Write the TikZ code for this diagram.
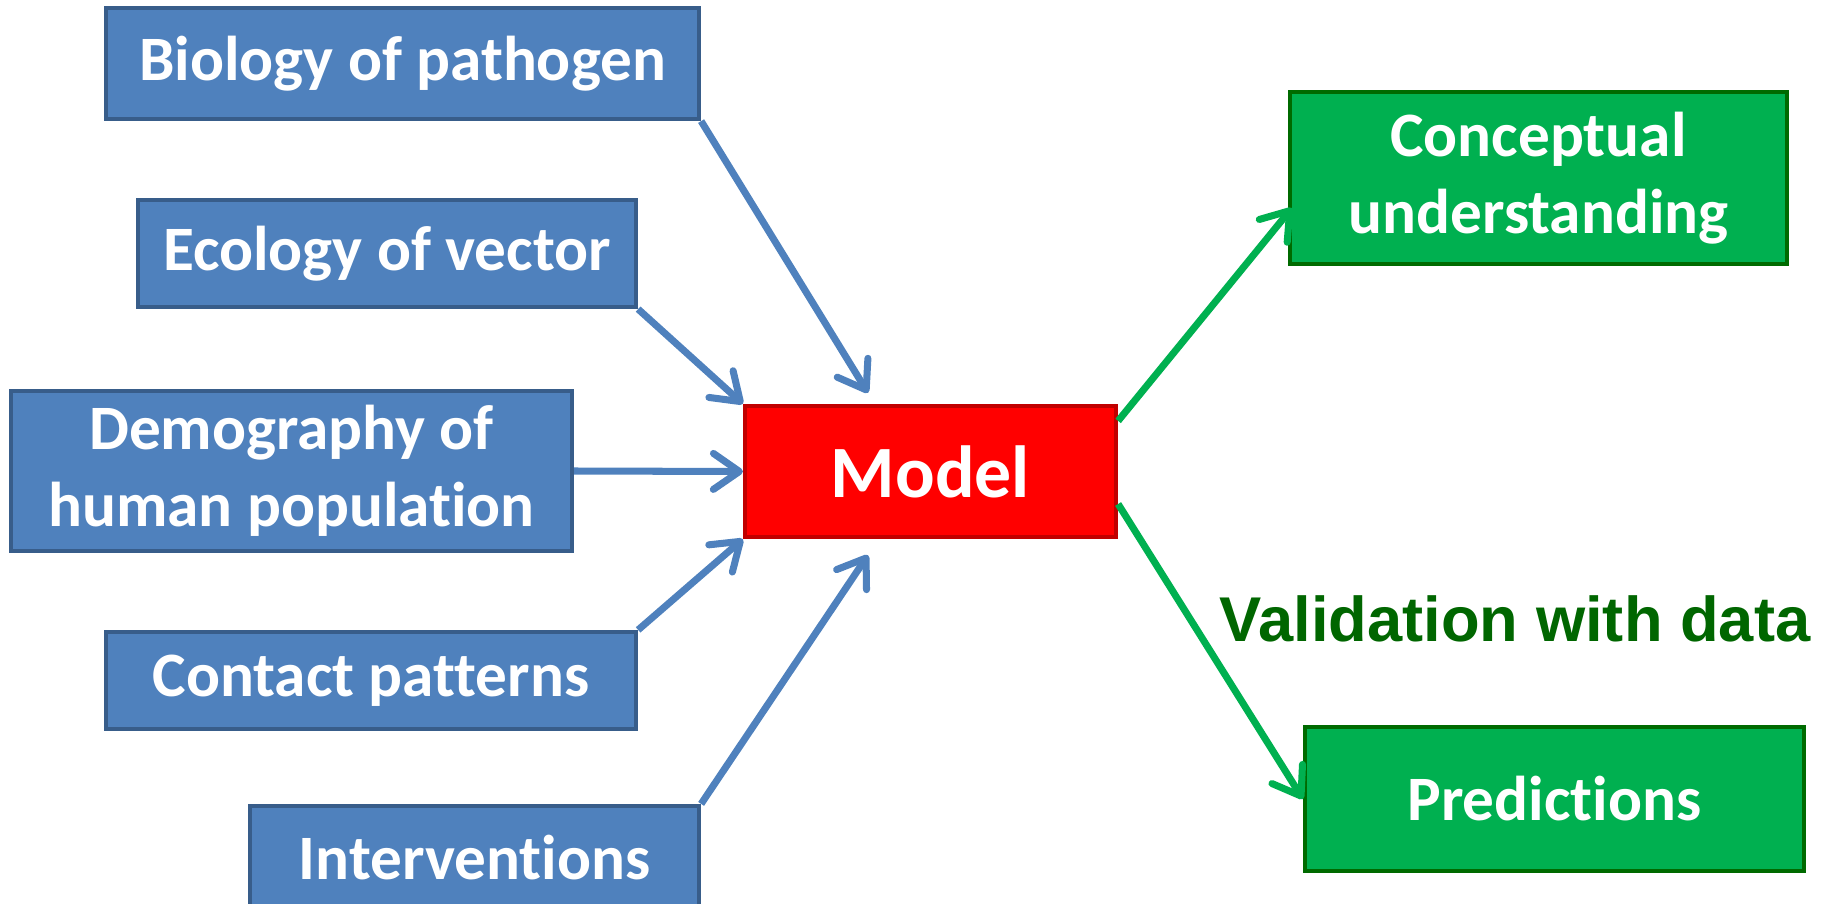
\documentclass[tikz,border=0pt]{standalone}
\usepackage{fontspec}
\setmainfont{Carlito}[Ligatures=NoCommon]
\newfontfamily\arialfont{Liberation Sans}
\usetikzlibrary{arrows.meta}
\definecolor{boxblue}{HTML}{4F81BD}
\definecolor{blueline}{HTML}{385D8A}
\definecolor{modelred}{HTML}{FF0000}
\definecolor{redline}{HTML}{C00000}
\definecolor{outgreen}{HTML}{00B050}
\definecolor{greenline}{HTML}{006A00}
\definecolor{datagreen}{HTML}{006600}

\begin{document}
\begin{tikzpicture}[
        inbox/.style={draw=blueline, fill=boxblue, line width=1.2pt, text=white, align=center,
            inner sep=0pt, font=\fontsize{18}{21.8}\selectfont\bfseries},
        outbox/.style={inbox, draw=greenline, fill=outgreen},
        modelbox/.style={inbox, draw=redline, fill=modelred, font=\fontsize{21}{25}\selectfont\bfseries},
        inarrow/.style={draw=boxblue, line width=2pt, -{Straight Barb[length=2.6mm,width=3.6mm,round]}},
        outarrow/.style={inarrow, draw=outgreen}
    ]
        \useasboundingbox (0,0) rectangle (18.31,9.03);
        \clip (0,0) rectangle (18.31,9.03);

        \node[inbox, minimum width=5.93cm, minimum height=1.11cm] (bio) at (4.025,8.395) {Biology of pathogen};
        \node[inbox, minimum width=4.98cm, minimum height=1.07cm] (eco) at (3.87,6.495) {Ecology of vector};
        \node[inbox, minimum width=5.61cm, minimum height=1.60cm] (demo) at (2.915,4.32) {Demography of\\human population};
        \node[inbox, minimum width=5.30cm, minimum height=0.97cm] (contact) at (3.71,2.225) {Contact patterns};
        \node[inbox, minimum width=4.49cm, minimum height=1.04cm] (interv) at (4.745,0.45) {Interventions};

        \node[modelbox, minimum width=3.71cm, minimum height=1.31cm] (model) at (9.305,4.315) {Model};

        \node[outbox, minimum width=4.97cm, minimum height=1.72cm] (concept) at (15.385,7.25) {Conceptual\\understanding};
        \node[outbox, minimum width=4.99cm, minimum height=1.44cm] (pred) at (15.545,1.04) {Predictions};
        \node[text=datagreen, font=\arialfont\fontsize{18}{22}\selectfont\bfseries] (valid) at (15.15,2.84) {Validation with data};

        \draw[inarrow] (bio.south east) -- ([shift={(-0.625,0.11)}]model.north);
        \draw[inarrow] (eco.south east) -- (model.north west);
        \draw[inarrow] (demo.east) -- (model.west);
        \draw[inarrow] (contact.north east) -- (model.south west);
        \draw[inarrow] (interv.north east) -- ([shift={(-0.625,-0.16)}]model.south);

        \draw[outarrow] ([yshift=-0.17cm]model.north east) -- ([shift={(0.04,-0.30)}]concept.west);
        \draw[outarrow] ([yshift=-0.325cm]model.east) -- (pred.west);
\end{tikzpicture}
\end{document}
